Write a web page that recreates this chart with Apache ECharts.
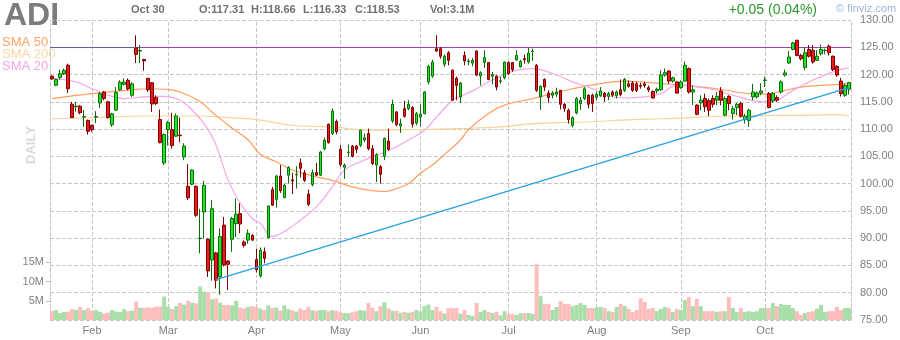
<!DOCTYPE html>
<html><head><meta charset="utf-8">
<script src="https://cdn.jsdelivr.net/npm/echarts@6/dist/echarts.min.js"></script>
<style>html,body{margin:0;padding:0;background:#fff}#c{width:900px;height:340px}</style>
</head><body><div id="c"></div>
<script>
// OHLC per trading day: [open, close, low, high]
const ohlc = [
[119.7,119.2,119.0,119.9],[118.04,119.07,117.85,119.26],[119.44,120.17,119.07,120.9],[120.17,120.78,119.9,121.1],[121.7,117.4,116.6,122.0],
[114.56,112.1,112.0,115.0],[114.1,114.2,113.2,115.0],[114.2,113.0,112.7,114.4],[112.2,112.3,110.4,113.5],[111.6,109.6,109.0,111.75],
[110.7,109.9,109.5,110.8],[112.2,112.3,111.1,113.3],[114.8,116.5,113.9,116.8],[116.8,115.6,115.3,117.0],[115.0,112.1,111.9,115.2],
[110.8,112.8,110.4,113.0],[113.5,116.7,113.3,117.7],[117.2,118.6,117.0,118.95],[118.2,118.6,118.0,119.3],[118.95,117.4,117.1,119.3],
[116.2,118.3,115.9,118.6],[124.9,123.7,122.1,127.2],[124.3,124.4,122.1,125.4],[122.75,122.5,120.7,122.9],[119.3,117.2,116.8,119.4],
[118.5,114.6,113.15,118.6],[115.8,114.7,114.4,116.2],[111.75,107.5,107.4,113.6],[103.8,109.0,103.4,109.2],[109.9,111.2,107.0,111.5],
[109.9,107.0,106.4,113.0],[108.7,112.4,108.6,112.85],[108.9,108.8,107.6,112.1],[104.9,106.9,104.3,107.4],[99.5,97.4,97.0,103.6],
[99.9,102.5,99.7,102.6],[99.5,94.2,93.9,99.7],[89.9,90.0,87.2,95.4],[94.8,99.7,89.9,100.5],[89.8,84.0,82.9,89.95],
[86.0,95.4,82.2,97.0],[87.3,82.3,80.8,87.5],[82.9,90.3,79.6,91.8],[92.4,85.1,84.8,93.9],[85.8,85.2,80.5,86.0],
[89.8,93.6,87.5,93.9],[92.7,94.4,90.2,97.3],[94.5,92.6,90.9,96.4],[89.3,88.7,88.3,89.6],[89.65,90.9,89.0,91.6],
[90.5,89.65,89.5,90.75],[86.1,84.2,83.7,88.1],[83.05,87.8,82.8,88.3],[87.5,86.3,85.4,88.3],[90.1,95.9,89.95,96.0],
[98.9,96.05,95.9,99.4],[97.1,101.4,95.6,101.55],[101.4,98.7,98.3,103.4],[97.45,99.7,97.3,100.0],[101.55,102.96,100.0,103.2],
[100.7,100.5,98.1,102.0],[101.6,101.7,99.1,103.2],[103.8,102.8,101.1,104.6],[102.0,100.6,100.3,102.5],[98.1,96.2,95.9,98.9],
[99.85,102.0,99.5,102.6],[102.05,101.55,101.4,103.8],[101.55,105.8,101.4,106.0],[106.4,107.96,106.1,108.45],[110.9,107.5,107.35,111.0],
[109.2,113.3,108.9,113.8],[111.4,109.5,109.06,111.75],[106.3,103.5,103.1,107.05],[103.0,103.4,100.9,103.7],[105.7,105.8,104.9,107.2],
[106.9,105.0,104.8,107.05],[106.9,106.3,105.6,107.05],[107.05,109.8,106.7,109.9],[108.0,108.4,107.6,109.2],[109.2,106.4,106.1,110.1],
[106.4,103.7,103.4,107.05],[103.4,105.3,100.3,105.6],[103.1,101.7,100.0,103.4],[105.0,108.3,104.3,108.45],[107.8,106.3,106.0,110.1],
[111.5,114.55,111.1,115.4],[113.15,110.8,110.5,113.3],[110.6,111.0,109.3,111.9],[113.75,112.35,112.1,115.2],[113.75,114.55,113.45,115.3],
[113.95,110.9,110.3,114.2],[111.1,112.85,110.7,113.15],[112.2,112.7,110.5,114.55],[112.85,116.8,112.7,117.0],[118.65,121.5,118.2,121.8],
[119.7,122.3,119.4,122.7],[124.75,124.3,124.1,127.2],[124.75,123.35,122.9,125.06],[121.9,123.35,121.4,123.7],[124.0,122.6,121.7,124.3],
[120.8,115.3,115.2,120.9],[119.3,118.0,115.3,119.6],[115.9,118.45,114.8,118.65],[123.5,122.5,121.7,124.26],[122.4,122.5,121.7,122.9],
[122.1,122.6,121.5,123.0],[124.3,119.9,119.7,124.45],[119.75,120.35,118.0,120.6],[122.25,123.1,121.2,124.45],[122.2,119.1,118.95,122.3],
[119.7,120.0,118.2,120.5],[119.7,117.7,117.1,119.9],[118.75,118.85,118.3,119.6],[119.4,122.3,119.1,122.4],[122.2,120.2,119.9,122.4],
[122.2,120.9,120.5,122.3],[122.7,123.5,122.5,124.45],[121.4,122.4,121.3,122.7],[122.9,122.7,122.0,123.65],[122.3,123.95,122.0,124.9],
[124.2,124.3,122.5,124.75],[121.7,117.1,116.8,121.9],[115.9,117.85,113.5,118.0],[119.1,117.7,117.0,119.3],[116.6,115.8,114.8,117.1],
[116.2,116.6,115.6,117.0],[116.4,116.8,115.9,117.6],[117.1,114.55,113.6,117.2],[114.55,113.8,113.15,114.8],[113.45,111.75,111.0,113.75],
[110.7,112.1,110.3,112.35],[112.95,115.6,112.7,115.9],[114.7,115.3,113.5,115.9],[115.6,117.4,115.3,117.7],[116.2,114.55,113.8,116.4],
[116.2,114.7,113.15,116.5],[115.8,116.4,115.3,116.8],[116.1,117.0,115.9,117.7],[116.6,115.9,115.0,116.8],[116.0,116.5,115.3,116.8],
[116.8,116.2,115.9,117.1],[116.1,116.8,115.6,117.1],[117.2,116.3,116.0,119.1],[117.1,119.1,116.8,119.4],[118.3,117.85,117.6,118.95],
[118.45,117.1,116.8,118.8],[118.3,117.1,116.8,118.65],[118.0,117.85,117.4,118.5],[118.3,118.0,117.6,118.7],[117.6,117.2,116.8,118.0],
[116.9,115.7,115.6,117.1],[117.0,117.3,116.5,117.6],[117.2,119.9,117.0,120.8],[119.9,120.35,119.6,121.1],[120.65,118.8,118.3,120.8],
[118.8,119.4,118.5,119.6],[118.65,116.6,116.5,118.8],[117.6,118.65,117.4,118.95],[118.8,121.7,118.65,122.4],[121.1,116.8,116.5,121.3],
[116.8,117.2,114.4,118.0],[114.4,112.7,112.55,114.55],[114.8,115.3,113.45,116.2],[115.6,114.1,113.15,116.5],[115.2,113.45,112.35,115.6],
[115.6,114.55,113.95,116.2],[115.3,116.0,114.4,116.8],[117.0,115.3,114.4,117.7],[112.55,115.6,112.35,116.0],[116.0,114.7,113.45,116.2],
[112.85,113.75,111.75,114.2],[113.95,114.55,112.55,114.8],[114.7,112.35,112.1,115.0],[111.75,112.35,111.0,112.8],[111.6,113.45,110.4,113.75],
[115.9,116.8,115.3,118.3],[115.9,116.6,115.6,116.9],[116.6,117.0,116.2,118.4],[118.9,119.0,117.7,119.6],[116.5,113.95,113.8,116.8],
[115.2,116.5,114.8,116.8],[115.8,115.3,115.0,116.2],[116.8,118.65,116.5,118.95],[119.9,120.3,119.6,120.9],[122.1,123.2,122.0,124.3],
[124.6,125.8,124.45,126.0],[126.3,123.5,123.35,126.3],[123.5,122.9,122.6,123.8],[121.3,124.0,120.8,125.06],[124.6,123.35,123.1,125.4],
[124.45,122.3,122.0,125.4],[122.6,123.35,122.5,124.45],[123.8,124.6,123.5,125.5],[124.4,124.45,123.7,124.75],[125.2,124.0,123.5,125.5],
[123.35,120.9,120.65,123.5],[121.5,119.9,119.6,121.7],[118.8,116.5,116.0,119.4],[116.2,118.0,115.9,118.4],[117.31,118.53,116.33,118.66]
];
// volume in millions
const volume = [
2.3,2.6,1.8,2.1,2.2,2.8,2.6,3.4,2.6,3.1,
2.4,2.6,2.1,1.7,1.9,2.6,2.2,2.1,2.8,2.3,
2.4,4.8,3.2,3.2,3.3,3.2,3.5,3.5,6.1,3.5,
2.8,3.6,4.4,4.0,5.0,4.5,4.3,8.7,7.4,7.3,
5.4,5.6,4.5,3.9,3.9,3.8,5.0,3.2,3.0,3.4,
3.6,3.4,3.0,2.6,3.8,3.1,3.2,2.5,3.8,2.8,
2.5,2.2,3.0,2.6,3.4,2.5,2.4,2.6,2.6,2.3,
2.6,2.4,2.0,1.8,1.8,2.0,2.3,2.6,2.4,4.4,
3.2,2.3,3.6,4.6,3.0,2.4,2.4,1.9,2.1,1.9,
2.1,2.6,2.2,3.6,4.0,2.6,3.4,2.3,1.7,3.1,
3.1,3.1,1.6,2.6,1.3,1.1,4.4,2.1,2.6,2.1,
1.8,2.1,1.2,2.3,1.6,1.6,1.3,1.8,1.8,1.8,
1.6,14.5,6.2,4.2,4.2,2.6,3.4,4.9,4.2,4.2,
3.6,3.9,4.4,3.9,3.1,3.1,3.3,3.4,3.1,2.3,
2.1,3.4,4.2,3.6,2.9,2.1,2.6,5.6,4.7,2.9,
3.1,2.3,2.9,3.4,3.1,2.1,2.9,2.6,5.2,6.0,
3.6,5.5,3.6,2.3,2.3,2.3,2.1,2.3,2.3,6.0,
3.1,2.1,3.1,2.1,2.3,2.1,2.3,3.1,3.1,3.1,
4.4,3.6,4.2,3.9,3.9,3.1,2.3,1.3,1.8,2.1,
2.3,2.9,3.9,2.1,2.3,2.3,3.4,2.6,3.1,3.1
];
// moving averages: [dayIndex, value]
const sma50 = [[0,115.6],[10,116.5],[20,117.2],[24,117.4],[28,117.3],[32,116.8],[37,115.0],[40,113.1],[44,110.7],[49,108.0],[52,105.4],[56,104.0],[60,102.5],[66,101.25],[70,100.6],[75,99.4],[79,98.8],[83,98.56],[86,99.1],[89,100.0],[92,101.9],[95,103.4],[99,106.0],[102,108.0],[104,109.9],[109,112.85],[113,114.4],[120,115.6],[125,116.5],[130,117.4],[137,118.35],[143,118.8],[147,118.65],[152,118.35],[158,118.0],[166,117.4],[174,116.5],[178,116.4],[183,117.1],[187,117.7],[196,118.2],[199,118.35]];
const sma200 = [[0,111.9],[10,112.1],[24,112.4],[37,112.4],[44,112.1],[51,111.75],[60,110.7],[70,110.4],[79,109.8],[91,109.9],[102,110.1],[112,110.4],[120,111.0],[133,111.3],[145,111.75],[152,111.9],[170,112.4],[191,112.55],[195,112.65],[199,112.4]];
const sma20 = [[0,119.3],[1,119.25],[6,118.65],[10,117.4],[15,116.0],[18,115.6],[23,115.9],[27,116.0],[31,115.6],[35,113.5],[40,108.6],[44,100.6],[47,96.4],[50,93.6],[52,92.7],[55,90.3],[58,91.2],[62,93.3],[66,95.75],[70,99.4],[73,102.5],[77,104.0],[81,105.2],[85,106.4],[89,108.0],[93,109.8],[96,112.2],[100,115.3],[102,116.0],[105,117.0],[110,119.0],[116,120.8],[120,121.1],[125,120.2],[130,118.65],[135,117.4],[138,116.2],[143,115.7],[148,115.9],[152,116.5],[156,118.0],[164,117.4],[170,116.2],[178,115.0],[181,115.3],[185,117.1],[190,119.0],[195,120.5],[198,121.1],[199,121.2]];
const trendLine = [[41,82.4],[199,117.6]];
const resistanceLevel = 124.95;
const resistanceLeft = [[0,124.95],[21,124.95]];
const monthIdx = [10,29,51,72,92,114,136,157,178];
const monthNames = ['Feb','Mar','Apr','May','Jun','Jul','Aug','Sep','Oct'];
const volTicks = [5,10,15];
const lastPrice = 118.53;
const header = {date:'Oct 30', o:'O:117.31', h:'H:118.66', l:'L:116.33', c:'C:118.53', vol:'Vol:3.1M', change:'+0.05 (0.04%)'};

const cats = ohlc.map((d, i) => String(i));
const FONT = 'Liberation Sans, Arial, sans-serif';
const chart = echarts.init(document.getElementById('c'), null, {renderer: 'canvas'});
const grey = '#808080';
const gridColor = '#c6c6c6';
const hdr = (text, x, extra) => Object.assign({type:'text', x:x, y:9.5, style:{text:text, font:'bold 11px ' + FONT, fill:'#707070', textVerticalAlign:'middle'}}, extra || {});
chart.setOption({
  animation: false,
  grid: {left: 50, right: 49, top: 20, bottom: 20},
  xAxis: {
    type: 'category', data: cats, boundaryGap: true,
    axisLine: {show: false}, axisTick: {show: false}, splitLine: {show: false},
    axisLabel: {
      interval: (i) => monthIdx.indexOf(i) >= 0,
      formatter: (v, i) => { const k = monthIdx.indexOf(Number(v)); return k >= 0 ? monthNames[k] : ''; },
      color: grey, fontSize: 11, fontFamily: FONT, margin: 5
    }
  },
  yAxis: [
    {type: 'value', position: 'right', min: 75, max: 130, interval: 5,
     axisLine: {show: true, lineStyle: {color: gridColor, type: 'dashed', dashOffset: 0}},
     axisTick: {show: false},
     splitLine: {show: true, lineStyle: {color: gridColor, type: 'dashed', width: 1}},
     axisLabel: {formatter: (v) => v.toFixed(2), color: grey, fontSize: 11, fontFamily: FONT, margin: 9}},
    {type: 'value', position: 'left', min: 0, max: 78,
     axisLine: {show: true, lineStyle: {color: gridColor, type: 'dashed'}},
     axisTick: {show: true, length: 4, customValues: volTicks, lineStyle: {color: '#bbbbbb'}},
     splitLine: {show: false},
     axisLabel: {customValues: volTicks, formatter: (v) => v + 'M', color: grey, fontSize: 11, fontFamily: FONT, margin: 6}}
  ],
  series: [
    {type: 'bar', xAxisIndex: 0, yAxisIndex: 1, barCategoryGap: '0%', z: 1, silent: true,
     data: volume.map((v, i) => ({value: v, itemStyle: {color: ohlc[i][1] >= ohlc[i][0] ? '#a8dea8' : '#fcbdbd'}}))},
    {type: 'line', data: [], z: 0, silent: true,
     markLine: {symbol: 'none', silent: true, z: 0, label: {show: false},
       lineStyle: {color: gridColor, type: 'dashed', width: 1},
       data: monthIdx.map((i) => ({xAxis: cats[i]}))}},
    {type: 'line', data: sma200, smooth: 0.4, showSymbol: false, z: 2, silent: true, lineStyle: {color: '#f7d598', width: 1.2}},
    {type: 'line', data: sma50, smooth: 0.4, showSymbol: false, z: 2, silent: true, lineStyle: {color: '#ff9e5e', width: 1.2}},
    {type: 'line', data: sma20, smooth: 0.4, showSymbol: false, z: 2, silent: true, lineStyle: {color: '#f4a6e8', width: 1.2}},
    {type: 'candlestick', data: ohlc, barWidth: 3, z: 5, silent: true,
     itemStyle: {color: '#22e622', color0: '#ec1a1a', borderColor: '#0b6e0b', borderColor0: '#7e0000', borderWidth: 1},
     markLine: {symbol: 'none', silent: true,
       data: [
         {yAxis: resistanceLevel, lineStyle: {color: '#9b45bd', width: 1, type: 'solid'}, label: {show: false}},
         {yAxis: lastPrice, lineStyle: {opacity: 0}, label: {show: true, position: 'end', formatter: lastPrice.toFixed(2), backgroundColor: '#ffff00', color: '#000', padding: [2,3,1,3], fontSize: 12, fontFamily: FONT, distance: 6}}
       ]}},
    {type: 'line', data: resistanceLeft, showSymbol: false, z: 6, silent: true, lineStyle: {color: '#5f6296', width: 1}},
    {type: 'line', data: trendLine, showSymbol: false, z: 6, silent: true, lineStyle: {color: '#27a2e4', width: 1.5}}
  ],
  graphic: [
    {type: 'text', x: 4, y: 16, style: {text: 'ADI', font: 'bold 32px ' + FONT, fill: '#7c7c7c', textVerticalAlign: 'middle'}},
    {type: 'text', x: 2, y: 42, style: {text: 'SMA 50', font: '13px ' + FONT, fill: '#ffa566', textVerticalAlign: 'middle'}},
    {type: 'text', x: 2, y: 54, style: {text: 'SMA 200', font: '13px ' + FONT, fill: '#f5d7a4', textVerticalAlign: 'middle'}},
    {type: 'text', x: 2, y: 66, style: {text: 'SMA 20', font: '13px ' + FONT, fill: '#f2a8e6', textVerticalAlign: 'middle'}},
    {type: 'text', x: 31, y: 145, rotation: Math.PI / 2, style: {text: 'DAILY', font: 'bold 13px ' + FONT, fill: '#dadada', textAlign: 'center', textVerticalAlign: 'middle'}},
    hdr(header.date, 131),
    hdr(header.o, 199),
    hdr(header.h, 251),
    hdr(header.l, 303),
    hdr(header.c, 355),
    hdr(header.vol, 430),
    {type: 'text', x: 817, y: 10, style: {text: header.change, font: '14px ' + FONT, fill: '#2a9a2a', textAlign: 'right', textVerticalAlign: 'middle'}},
    {type: 'text', x: 836, y: 9, style: {text: '\u00a9 finviz.com', font: '11px ' + FONT, fill: '#9ab6d8', textVerticalAlign: 'middle'}}
  ]
});
</script>
</body></html>
